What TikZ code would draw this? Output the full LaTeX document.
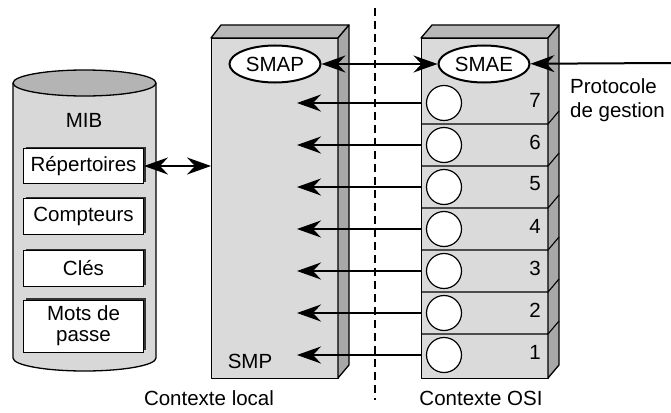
\documentclass[tikz,border=0pt]{standalone}
\usepackage{fontspec}
\setmainfont{Liberation Sans}
\usetikzlibrary{arrows.meta,shapes.geometric}
\definecolor{front}{HTML}{DADADA}
\definecolor{topf}{HTML}{B8B8B8}
\definecolor{sidef}{HTML}{A8A8A8}
\definecolor{cyl}{HTML}{D8D8D8}
\definecolor{cyltop}{HTML}{B4B4B4}
\begin{document}
\begin{tikzpicture}[x=1pt,y=-1pt,
  every node/.style={font=\fontsize{20.5}{24}\selectfont, inner sep=0pt},
  face/.style={draw=black, line width=1.3pt, line join=round},
  arr/.style={line width=2pt, -{Stealth[length=24pt,width=17pt,inset=8pt]}},
  darr/.style={line width=2pt, {Stealth[length=24pt,width=17pt,inset=8pt]}-{Stealth[length=24pt,width=17pt,inset=8pt]}},
  mibbox/.style={draw=black, line width=1pt, fill=white, minimum width=120pt, align=center,
     preaction={fill=black!80, transform canvas={shift={(2pt,2pt)}}}},
  oval/.style={ellipse, draw=black, line width=2pt, fill=white, minimum width=91pt, minimum height=37pt},
  layercirc/.style={circle, draw=black, line width=1.2pt, fill=white, minimum size=35pt},
  num/.style={anchor=east}
]
\useasboundingbox (0,0) rectangle (671,412);

% ---- cylinder (MIB)
\fill[cyl] (13,83) -- (13,358) arc[start angle=180,end angle=0,x radius=71.5,y radius=13] -- (156,83) -- cycle;
\draw[face] (13,83) -- (13,358) arc[start angle=180,end angle=0,x radius=71.5,y radius=13] -- (156,83);
\draw[face, fill=cyltop] (84.5,83) ellipse[x radius=71.5, y radius=13];
\node (mib) at (84,120) {MIB};
\node[mibbox, minimum height=35pt] (rep) at (83.5,166) {Répertoires};
\node[mibbox, minimum height=36pt] (cpt) at (83.5,216.5) {Compteurs};
\node[mibbox, minimum height=36pt] (cles) at (83.5,268.5) {Clés};
\node[mibbox, minimum height=52pt] (mdp) at (83.5,326) {Mots de\\[-3pt]passe};

% ---- SMP prism
\node[face, fill=front, minimum width=127pt, minimum height=340pt, anchor=north west] (smp) at (211,38) {};
\draw[face, fill=topf] (211,38) -- (221,25) -- (349,25) -- (338,38) -- cycle;
\draw[face, fill=sidef] (338,38) -- (349,25) -- (349,365) -- (338,378) -- cycle;
\node (smptxt) at (250,361) {SMP};
\node[oval] (smap) at (275,64) {SMAP};

% ---- OSI prism
\node[face, fill=front, minimum width=127pt, minimum height=340pt, anchor=north west] (osi) at (421,38) {};
\draw[face, fill=topf] (421,38) -- (432,25) -- (559,25) -- (548,38) -- cycle;
\draw[face, fill=sidef] (548,38) -- (559,25) -- (559,365) -- (548,378) -- cycle;
\foreach \yy in {124,166,208,250,292,334}{
  \draw[line width=1.1pt] (421,\yy) -- (548,\yy) -- (559,\yy-13);
}
\node[oval] (smae) at (484,64) {SMAE};

\foreach \n/\yy in {7/103,6/145,5/187,4/229,3/271,2/313,1/355}{
  \node[layercirc] (c\n) at (444,\yy) {};
  \node[num] (n\n) at (541,\yy-3) {\n};
}

% ---- dashed separator
\coordinate (dtop) at (375,8);
\coordinate (dbot) at (375,400);
\draw[line width=1.5pt, dash pattern=on 8pt off 5pt] (dtop) -- (dbot);

% ---- arrows
\coordinate (tipx) at (297,0);
\foreach \n in {7,6,5,4,3,2,1}{
  \draw[arr] (c\n -| osi.west) -- (c\n -| tipx);
}
\draw[darr] (smap) -- (smae);
\coordinate (pg) at (671,63);
\draw[arr] (pg) -- (smae);
\draw[darr] (rep.east) -- (rep.east -| smp.west);

% ---- labels
\node[align=left, anchor=north west] (proto) at (570,78) {Protocole\\de gestion};
\node (cl) at (209,398) {Contexte local};
\node (co) at (481,398) {Contexte OSI};
\end{tikzpicture}
\end{document}
